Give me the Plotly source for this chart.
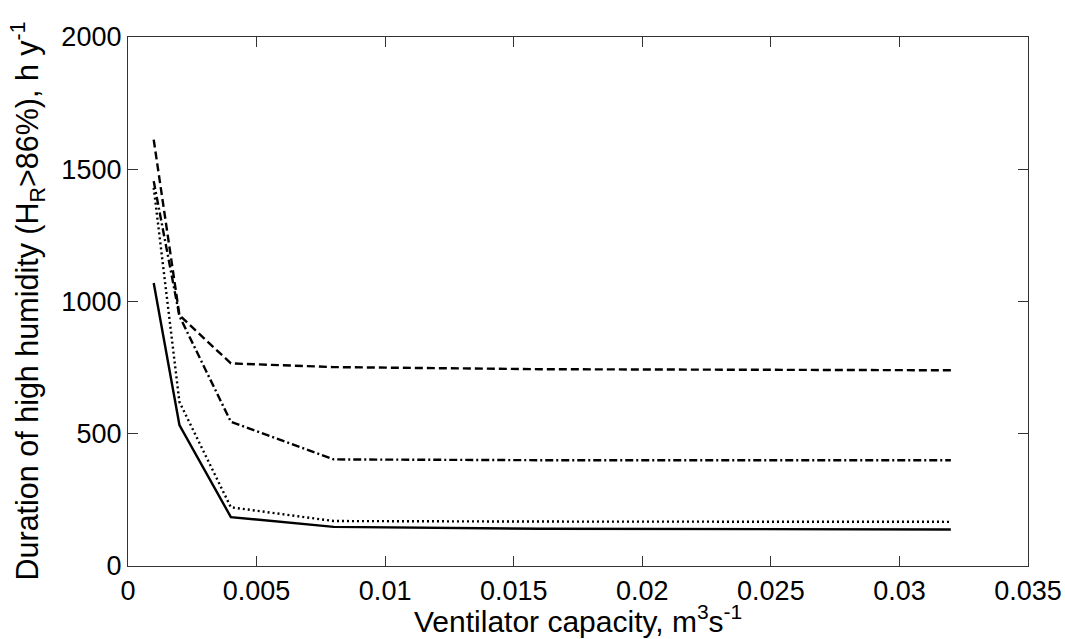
import plotly.graph_objects as go

capacity = [0.001, 0.002, 0.004, 0.008, 0.016, 0.032]
series_solid = [1070, 533, 185, 148, 141, 138]
series_dotted = [1430, 620, 222, 170, 168, 167]
series_dashdot = [1455, 945, 545, 403, 400, 400]
series_dashed = [1612, 948, 766, 752, 744, 740]

x_ticks = [0, 0.005, 0.01, 0.015, 0.02, 0.025, 0.03, 0.035]
x_tick_text = ["0", "0.005", "0.01", "0.015", "0.02", "0.025", "0.03", "0.035"]
y_ticks = [0, 500, 1000, 1500, 2000]
y_tick_text = ["0", "500", "1000", "1500", "2000"]

x_title = "Ventilator capacity, m<sup>3</sup>s<sup>-1</sup>"
y_title = "Duration of high humidity (H<sub>R</sub>&gt;86%), h y<sup>-1</sup>"

FONT = "Liberation Sans, Arial, sans-serif"

fig = go.Figure()
styles = [
    (series_solid, "solid", "solid"),
    (series_dotted, "2px,3px", "dotted"),
    (series_dashdot, "8px,3px,2px,3px", "dash-dot"),
    (series_dashed, "8px,4px", "dashed"),
]
for ys, dash, name in styles:
    fig.add_trace(go.Scatter(x=capacity, y=ys, mode="lines", name=name,
                             line=dict(color="black", width=2.4, dash=dash)))

axis_common = dict(
    showgrid=False, zeroline=False, showline=True, linecolor="#333333",
    linewidth=1.3, mirror="ticks", ticks="inside", ticklen=10,
    tickcolor="#333333", tickwidth=1.3, automargin=False,
    tickfont=dict(family=FONT, size=27, color="black"),
)

fig.update_layout(
    width=1065, height=639,
    paper_bgcolor="white", plot_bgcolor="white",
    showlegend=False,
    margin=dict(l=128, r=37, t=37, b=73),
    xaxis=dict(range=[0, 0.035], tickvals=x_ticks, ticktext=x_tick_text, **axis_common),
    yaxis=dict(range=[0, 2000], tickvals=y_ticks, ticktext=y_tick_text, **axis_common),
    annotations=[
        dict(text=x_title, xref="paper", yref="paper", x=0.5, y=0,
             xanchor="center", yanchor="top", yshift=-32, showarrow=False,
             font=dict(family=FONT, size=30, color="black")),
        dict(text=y_title, xref="paper", yref="paper", x=0, y=0.5,
             xanchor="center", yanchor="middle", xshift=-100, textangle=-90,
             showarrow=False, font=dict(family=FONT, size=30.5, color="black")),
    ],
)

fig.write_html("out.html", config={"displayModeBar": False},
               post_script="document.body.style.margin='0';")
